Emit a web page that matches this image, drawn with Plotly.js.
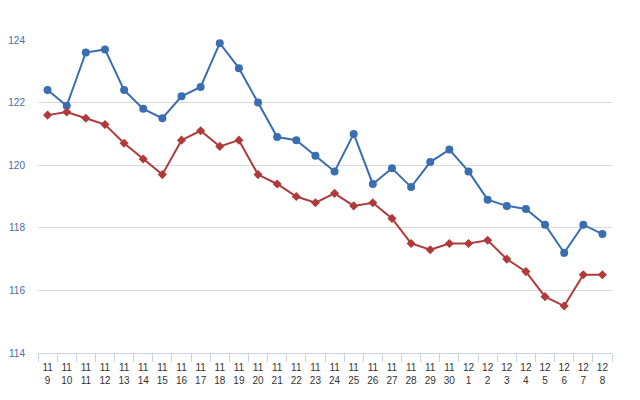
<!DOCTYPE html>
<html>
<head>
<meta charset="utf-8">
<script src="https://cdn.plot.ly/plotly-3.0.1.min.js"></script>
<style>html,body{margin:0;padding:0;background:#fff;}#chart{width:640px;height:400px;}</style>
</head>
<body>
<div id="chart"></div>
<script>
const categories = ["11<br>9","11<br>10","11<br>11","11<br>12","11<br>13","11<br>14","11<br>15","11<br>16","11<br>17","11<br>18","11<br>19","11<br>20","11<br>21","11<br>22","11<br>23","11<br>24","11<br>25","11<br>26","11<br>27","11<br>28","11<br>29","11<br>30","12<br>1","12<br>2","12<br>3","12<br>4","12<br>5","12<br>6","12<br>7","12<br>8"];
const blueSeries = [122.4,121.9,123.6,123.7,122.4,121.8,121.5,122.2,122.5,123.9,123.1,122.0,120.9,120.8,120.3,119.8,121.0,119.4,119.9,119.3,120.1,120.5,119.8,118.9,118.7,118.6,118.1,117.2,118.1,117.8];
const redSeries = [121.6,121.7,121.5,121.3,120.7,120.2,119.7,120.8,121.1,120.6,120.8,119.7,119.4,119.0,118.8,119.1,118.7,118.8,118.3,117.5,117.3,117.5,117.5,117.6,117.0,116.6,115.8,115.5,116.5,116.5];
const yTicks = [114,116,118,120,122,124];

const traces = [
  {x: categories, y: blueSeries, type: 'scatter', mode: 'lines+markers', cliponaxis: false,
   line: {color: '#3b6eb0', width: 2}, marker: {symbol: 'circle', size: 8, color: '#3b6eb0'}},
  {x: categories, y: redSeries, type: 'scatter', mode: 'lines+markers', cliponaxis: false,
   line: {color: '#b03a3a', width: 2}, marker: {symbol: 'diamond', size: 7, color: '#b03a3a'}}
];

const layout = {
  width: 640, height: 400,
  margin: {l: 38, r: 28, t: 40, b: 47},
  paper_bgcolor: '#ffffff', plot_bgcolor: '#ffffff',
  showlegend: false,
  font: {family: 'Liberation Sans, Arial, sans-serif', size: 10, color: '#333333'},
  xaxis: {
    type: 'category', range: [-0.5, 29.5],
    showgrid: false, zeroline: false,
    showline: true, linecolor: '#c9d4e2', linewidth: 1,
    ticks: 'outside', tickson: 'boundaries', ticklen: 8, tickcolor: '#c9d4e2', tickwidth: 1,
    ticklabelstandoff: 5,
    tickfont: {size: 10, color: '#333333'}, tickangle: 0
  },
  yaxis: {
    range: [114, 124], tickvals: yTicks, ticktext: yTicks.map(String),
    showgrid: true, gridcolor: '#d9d9d9', gridwidth: 1,
    zeroline: false, showline: false, ticks: '',
    ticklabelstandoff: 12,
    tickfont: {size: 10, color: '#4a6da6'}
  }
};

Plotly.newPlot('chart', traces, layout, {displayModeBar: false, staticPlot: true});
</script>
</body>
</html>
